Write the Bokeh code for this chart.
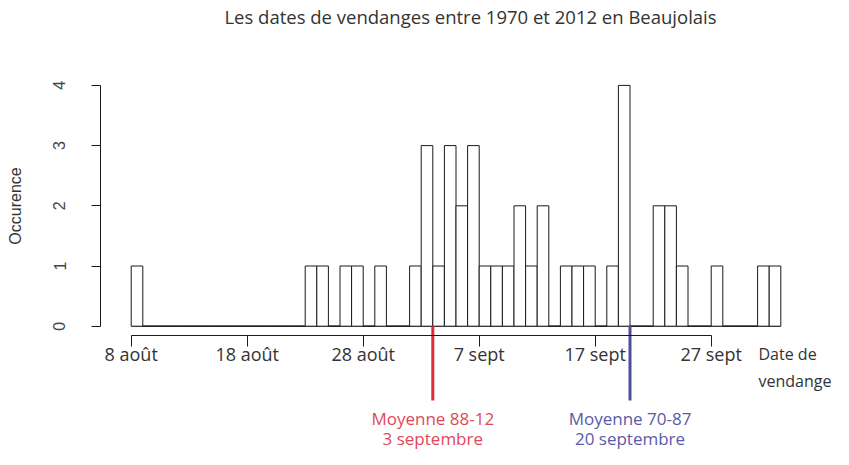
from bokeh.plotting import figure
from bokeh.models import Range1d, FixedTicker, ColumnDataSource
from bokeh.core.properties import value
from bokeh.embed import file_html
from bokeh.resources import INLINE

# ---- data -------------------------------------------------------------
title_text = "Les dates de vendanges entre 1970 et 2012 en Beaujolais"
# one-day bins, counted in days after 8 August
bin_days = list(range(56))
counts = [1, 0, 0, 0, 0, 0, 0, 0, 0, 0, 0, 0, 0, 0, 0,
          1, 1, 0, 1, 1, 0, 1, 0, 0,
          1, 3, 1, 3, 2, 3,
          1, 1, 1, 2, 1, 2, 0, 1, 1, 1,
          0, 1, 4, 0, 0, 2, 2, 1, 0, 0,
          1, 0, 0, 0, 1, 1]
tick_days = [0, 10, 20, 30, 40, 50]
tick_labels = ["8 août", "18 août", "28 août", "7 sept", "17 sept", "27 sept"]
y_ticks = [0, 1, 2, 3, 4]
mean_days = [26, 43]
mean_title = ["Moyenne 88-12", "Moyenne 70-87"]
mean_date = ["3 septembre", "20 septembre"]
mean_line_colors = ["#e2283a", "#4e4e9c"]
mean_text_colors = ["#e0485a", "#5a5aa8"]

# ---- figure -----------------------------------------------------------
PXD = 11.6   # px per day
PXY = 60.2   # px per count
W, H = 833, 449
X_ORIGIN = 130.7   # px of day 0
Y_BASE = 325.7     # px of count 0
x0 = -X_ORIGIN / PXD
y1 = Y_BASE / PXY

p = figure(width=W, height=H,
           x_range=Range1d(x0, x0 + W / PXD),
           y_range=Range1d(y1 - H / PXY, y1),
           output_backend="svg", toolbar_location=None, min_border=0)
p.grid.visible = False
p.outline_line_color = None
p.background_fill_color = "white"

src = ColumnDataSource(dict(left=bin_days,
                            right=[d + 1 for d in bin_days],
                            top=counts))
p.segment(x0="left", x1="right", y0=0, y1=0, source=src,
          line_color="#1a1a1a", line_width=1)
p.quad(left="left", right="right", bottom=0, top="top", source=src,
       fill_color="white", line_color="#1a1a1a", line_width=1)

# x axis (R style: detached below the bars)
xa = p.xaxis[0]
xa.fixed_location = -9.3 / PXY
xa.ticker = FixedTicker(ticks=tick_days)
xa.major_label_overrides = dict(zip(tick_days, tick_labels))
xa.bounds = (min(tick_days), max(tick_days))
xa.major_tick_out = 11
xa.major_tick_in = 0
xa.minor_tick_out = 0
xa.minor_tick_in = 0
xa.axis_line_color = "#1a1a1a"
xa.major_tick_line_color = "#1a1a1a"
xa.major_label_standoff = -5
xa.major_label_text_font = "Open Sans"
xa.major_label_text_font_size = "18px"
xa.major_label_text_color = "#333333"

# y axis
ya = p.yaxis[0]
ya.fixed_location = (100 - X_ORIGIN) / PXD
ya.ticker = FixedTicker(ticks=y_ticks)
ya.bounds = (min(y_ticks), max(y_ticks))
ya.major_tick_out = 9
ya.major_tick_in = 0
ya.minor_tick_out = 0
ya.minor_tick_in = 0
ya.axis_line_color = "#1a1a1a"
ya.major_tick_line_color = "#1a1a1a"
ya.major_label_orientation = "vertical"
ya.major_label_standoff = 26
ya.major_label_text_font = "Liberation Sans"
ya.major_label_text_font_size = "16px"
ya.major_label_text_color = "#444444"
ya.axis_label = "Occurence"
ya.axis_label_standoff = 27
ya.axis_label_text_font = "Liberation Sans"
ya.axis_label_text_font_style = "normal"
ya.axis_label_text_font_size = "16px"
ya.axis_label_text_color = "#333333"

# mean lines and their labels
msrc = ColumnDataSource(dict(x=mean_days, t=mean_title, d=mean_date,
                             lc=mean_line_colors, tc=mean_text_colors))
p.segment(x0="x", x1="x", y0=0, y1=-(400 - Y_BASE) / PXY, source=msrc,
          line_color="lc", line_width=3)
p.text(x="x", y=-(418 - Y_BASE) / PXY, text="t", source=msrc,
       text_align="center", text_baseline="middle",
       text_font=value("Open Sans"), text_font_size="17px", text_color="tc")
p.text(x="x", y=-(438 - Y_BASE) / PXY, text="d", source=msrc,
       text_align="center", text_baseline="middle",
       text_font=value("Open Sans"), text_font_size="17px", text_color="tc")

# title and axis note
p.text(x=[(470 - X_ORIGIN) / PXD], y=[(Y_BASE - 16) / PXY], text=[title_text],
       text_align="center", text_baseline="middle",
       text_font=value("Open Sans"), text_font_size="18.5px", text_color="#333333")
p.text(x=[(758 - X_ORIGIN) / PXD] * 2,
       y=[-(353 - Y_BASE) / PXY, -(380 - Y_BASE) / PXY],
       text=["Date de", "vendange"],
       text_align="left", text_baseline="middle",
       text_font=value("Open Sans"), text_font_size="16px", text_color="#333333")

open("out.html", "w").write(file_html(p, INLINE))
